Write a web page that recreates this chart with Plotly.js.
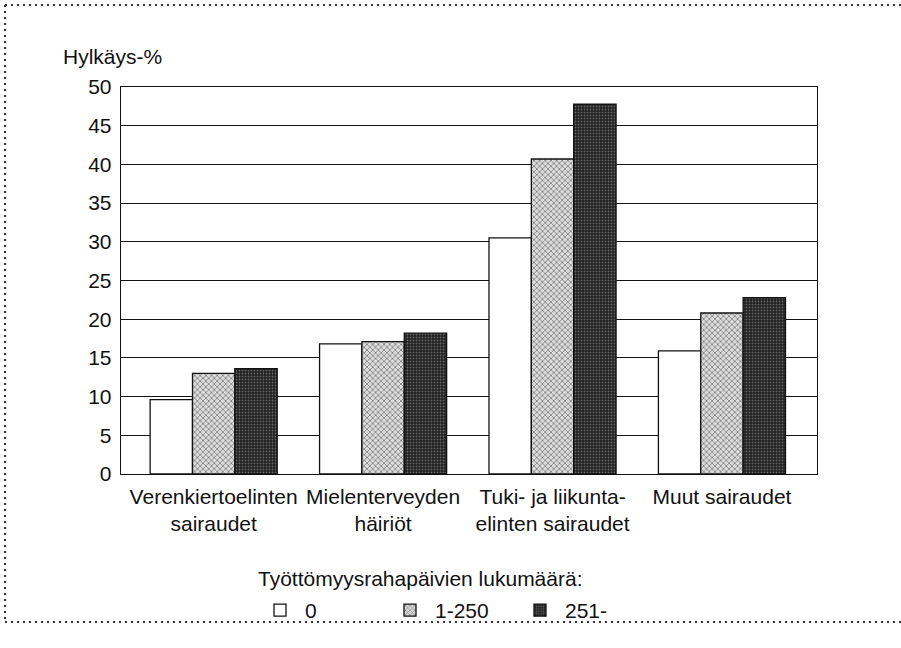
<!DOCTYPE html>
<html><head><meta charset="utf-8">
<script src="https://cdn.plot.ly/plotly-3.0.1.min.js"></script>
<style>body{margin:0;background:#fff}#chart{width:901px;height:648px}</style>
</head><body><div id="chart"></div>
<script>
const categories = ["Verenkiertoelinten<br>sairaudet", "Mielenterveyden<br>häiriöt", "Tuki- ja liikunta-<br>elinten sairaudet", "Muut sairaudet"];
const seriesNames = ["0", "1-250", "251-"];
const vals0 = [9.6, 16.8, 30.5, 15.9];
const vals1 = [13.0, 17.1, 40.7, 20.8];
const vals2 = [13.6, 18.2, 47.8, 22.8];
const yTicks = [0, 5, 10, 15, 20, 25, 30, 35, 40, 45, 50];
const legendTitle = "Työttömyysrahapäivien lukumäärä:";
const yTitle = "Hylkäys-%";

const font = {family: "Liberation Sans, Arial, sans-serif", size: 21, color: "#111"};
const line = {color: "#111", width: 1.3};
const traces = [
  {type: "bar", name: seriesNames[0], x: categories, y: vals0,
   marker: {color: "#ffffff", line: line}},
  {type: "bar", name: seriesNames[1], x: categories, y: vals1,
   marker: {color: "#c8c8c8", line: line,
            pattern: {shape: "x", size: 4, solidity: 0.3, fgcolor: "#666", bgcolor: "#dcdcdc", fillmode: "replace"}}},
  {type: "bar", name: seriesNames[2], x: categories, y: vals2,
   marker: {color: "#2a2a2a", line: line,
            pattern: {shape: ".", size: 3, solidity: 0.3, fgcolor: "#666", bgcolor: "#202020", fillmode: "replace"}}}
];

const L = 121, R = 817, T = 87, B = 474;
const px = v => (v - L) / (R - L);
const py = v => (B - v) / (B - T);
const dot = {color: "#333", width: 2, dash: "2px,4px"};

const layout = {
  width: 901, height: 648,
  margin: {l: L, r: 901 - R, t: T, b: 648 - B},
  paper_bgcolor: "#fff", plot_bgcolor: "#fff",
  font: font,
  barmode: "group", bargap: 0.25, bargroupgap: 0,
  showlegend: true,
  legend: {orientation: "h", x: px(255), xanchor: "left", y: py(590), yanchor: "top",
           font: font, itemwidth: 40, entrywidth: 75, traceorder: "normal", bgcolor: "rgba(0,0,0,0)"},
  xaxis: {type: "category", range: [-0.547, 3.561], showline: true, mirror: true, linecolor: "#111", linewidth: 1.3,
          ticks: "", tickfont: font, showgrid: false, automargin: false, ticklabelstandoff: 3},
  yaxis: {range: [0, 50], tickvals: yTicks, ticktext: yTicks.map(String), showline: true, mirror: true,
          linecolor: "#111", linewidth: 1.3, showgrid: true, gridcolor: "#111", gridwidth: 1,
          ticks: "", tickfont: font, zeroline: false, automargin: false, ticklabelstandoff: 4},
  annotations: [
    {text: yTitle, xref: "paper", yref: "paper", x: px(61), y: py(56),
     xanchor: "left", yanchor: "middle", showarrow: false, font: font},
    {text: legendTitle, xref: "paper", yref: "paper", x: px(256), y: py(578),
     xanchor: "left", yanchor: "middle", showarrow: false, font: font}
  ],
  shapes: [
    {type: "line", xref: "paper", yref: "paper", x0: px(5), x1: px(901), y0: py(5), y1: py(5), line: dot},
    {type: "line", xref: "paper", yref: "paper", x0: px(5), x1: px(901), y0: py(622), y1: py(622), line: dot},
    {type: "line", xref: "paper", yref: "paper", x0: px(5), x1: px(5), y0: py(5), y1: py(622), line: dot}
  ]
};
Plotly.newPlot("chart", traces, layout, {displayModeBar: false, staticPlot: true});
</script></body></html>
